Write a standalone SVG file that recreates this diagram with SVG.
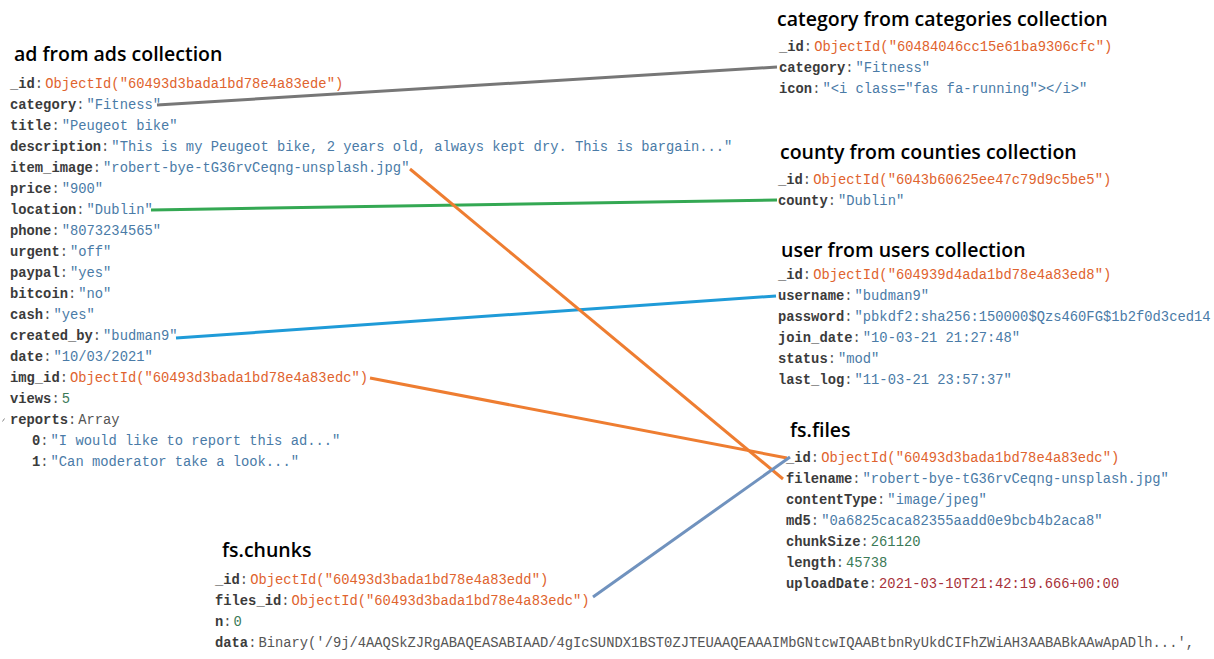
<svg xmlns="http://www.w3.org/2000/svg" width="1214" height="659" viewBox="0 0 1214 659">
<style>
text{font-family:"Liberation Mono","DejaVu Sans Mono",monospace;font-size:13.8px;fill:#555555}
.h{font-family:"Open Sans","Liberation Sans",sans-serif;font-size:19.5px;font-weight:600;fill:#000000}
.k{font-weight:bold;fill:#3b3b3b}
.s{fill:#4a7ba7}
.o{fill:#e0632e}
.n{fill:#3b7a57}
.d{fill:#a8323a}
.g{fill:#555555}
.c{fill:none;stroke-width:3;stroke-linecap:butt}
</style>
<rect width="1214" height="659" fill="#ffffff"/>

<g id="ad">
<text class="h" x="14" y="61">ad from ads collection</text>
<text x="10" y="88"><tspan class="k">_id</tspan>:<tspan class="o" dx="2">ObjectId("60493d3bada1bd78e4a83ede")</tspan></text>
<text x="10" y="109"><tspan class="k">category</tspan>:<tspan class="s" dx="2">"Fitness"</tspan></text>
<text x="10" y="130"><tspan class="k">title</tspan>:<tspan class="s" dx="2">"Peugeot bike"</tspan></text>
<text x="10" y="151"><tspan class="k">description</tspan>:<tspan class="s" dx="2">"This is my Peugeot bike, 2 years old, always kept dry. This is bargain..."</tspan></text>
<text x="10" y="172"><tspan class="k">item_image</tspan>:<tspan class="s" dx="2">"robert-bye-tG36rvCeqng-unsplash.jpg"</tspan></text>
<text x="10" y="193"><tspan class="k">price</tspan>:<tspan class="s" dx="2">"900"</tspan></text>
<text x="10" y="214"><tspan class="k">location</tspan>:<tspan class="s" dx="2">"Dublin"</tspan></text>
<text x="10" y="235"><tspan class="k">phone</tspan>:<tspan class="s" dx="2">"8073234565"</tspan></text>
<text x="10" y="256"><tspan class="k">urgent</tspan>:<tspan class="s" dx="2">"off"</tspan></text>
<text x="10" y="277"><tspan class="k">paypal</tspan>:<tspan class="s" dx="2">"yes"</tspan></text>
<text x="10" y="298"><tspan class="k">bitcoin</tspan>:<tspan class="s" dx="2">"no"</tspan></text>
<text x="10" y="319"><tspan class="k">cash</tspan>:<tspan class="s" dx="2">"yes"</tspan></text>
<text x="10" y="340"><tspan class="k">created_by</tspan>:<tspan class="s" dx="2">"budman9"</tspan></text>
<text x="10" y="361"><tspan class="k">date</tspan>:<tspan class="s" dx="2">"10/03/2021"</tspan></text>
<text x="10" y="382"><tspan class="k">img_id</tspan>:<tspan class="o" dx="2">ObjectId("60493d3bada1bd78e4a83edc")</tspan></text>
<text x="10" y="403"><tspan class="k">views</tspan>:<tspan class="n" dx="2">5</tspan></text>
<path d="M2.5,421.5 L4.5,418.5" stroke="#888" stroke-width="1" fill="none"/>
<text x="10" y="424"><tspan class="k">reports</tspan>:<tspan class="g" dx="2">Array</tspan></text>
<text x="32" y="445"><tspan class="k">0</tspan>:<tspan class="s" dx="2">"I would like to report this ad..."</tspan></text>
<text x="32" y="466"><tspan class="k">1</tspan>:<tspan class="s" dx="2">"Can moderator take a look..."</tspan></text>
</g>

<g id="category">
<text class="h" x="777" y="26">category from categories collection</text>
<text x="779" y="51"><tspan class="k">_id</tspan>:<tspan class="o" dx="2">ObjectId("60484046cc15e61ba9306cfc")</tspan></text>
<text x="779" y="72"><tspan class="k">category</tspan>:<tspan class="s" dx="2">"Fitness"</tspan></text>
<text x="779" y="93"><tspan class="k">icon</tspan>:<tspan class="s" dx="2">"&lt;i class="fas fa-running"&gt;&lt;/i&gt;"</tspan></text>
</g>

<g id="county">
<text class="h" x="780" y="159">county from counties collection</text>
<text x="778" y="184"><tspan class="k">_id</tspan>:<tspan class="o" dx="2">ObjectId("6043b60625ee47c79d9c5be5")</tspan></text>
<text x="778" y="205"><tspan class="k">county</tspan>:<tspan class="s" dx="2">"Dublin"</tspan></text>
</g>

<g id="user">
<text class="h" x="781" y="257">user from users collection</text>
<text x="778" y="279"><tspan class="k">_id</tspan>:<tspan class="o" dx="2">ObjectId("604939d4ada1bd78e4a83ed8")</tspan></text>
<text x="778" y="300"><tspan class="k">username</tspan>:<tspan class="s" dx="2">"budman9"</tspan></text>
<text x="778" y="321"><tspan class="k">password</tspan>:<tspan class="s" dx="2">"pbkdf2:sha256:150000$Qzs460FG$1b2f0d3ced14</tspan></text>
<text x="778" y="342"><tspan class="k">join_date</tspan>:<tspan class="s" dx="2">"10-03-21 21:27:48"</tspan></text>
<text x="778" y="363"><tspan class="k">status</tspan>:<tspan class="s" dx="2">"mod"</tspan></text>
<text x="778" y="384"><tspan class="k">last_log</tspan>:<tspan class="s" dx="2">"11-03-21 23:57:37"</tspan></text>
</g>

<g id="fs-files">
<text class="h" x="790" y="437">fs.files</text>
<text x="786" y="462"><tspan class="k">_id</tspan>:<tspan class="o" dx="2">ObjectId("60493d3bada1bd78e4a83edc")</tspan></text>
<text x="786" y="483"><tspan class="k">filename</tspan>:<tspan class="s" dx="2">"robert-bye-tG36rvCeqng-unsplash.jpg"</tspan></text>
<text x="786" y="504"><tspan class="k">contentType</tspan>:<tspan class="s" dx="2">"image/jpeg"</tspan></text>
<text x="786" y="525"><tspan class="k">md5</tspan>:<tspan class="s" dx="2">"0a6825caca82355aadd0e9bcb4b2aca8"</tspan></text>
<text x="786" y="546"><tspan class="k">chunkSize</tspan>:<tspan class="n" dx="2">261120</tspan></text>
<text x="786" y="567"><tspan class="k">length</tspan>:<tspan class="n" dx="2">45738</tspan></text>
<text x="786" y="588"><tspan class="k">uploadDate</tspan>:<tspan class="d" dx="2">2021-03-10T21:42:19.666+00:00</tspan></text>
</g>

<g id="fs-chunks">
<text class="h" x="222" y="557">fs.chunks</text>
<text x="215" y="584"><tspan class="k">_id</tspan>:<tspan class="o" dx="2">ObjectId("60493d3bada1bd78e4a83edd")</tspan></text>
<text x="215" y="605"><tspan class="k">files_id</tspan>:<tspan class="o" dx="2">ObjectId("60493d3bada1bd78e4a83edc")</tspan></text>
<text x="215" y="626"><tspan class="k">n</tspan>:<tspan class="n" dx="2">0</tspan></text>
<text x="215" y="647"><tspan class="k">data</tspan>:<tspan class="g" dx="2">Binary('/9j/4AAQSkZJRgABAQEASABIAAD/4gIcSUNDX1BST0ZJTEUAAQEAAAIMbGNtcwIQAABtbnRyUkdCIFhZWiAH3AABABkAAwApADlh...',</tspan></text>
</g>

<g id="connectors">
<line class="c" x1="157" y1="105" x2="777" y2="67" stroke="#777777"/>
<line class="c" x1="151" y1="210" x2="777" y2="200" stroke="#34a853"/>
<line class="c" x1="176" y1="338" x2="776" y2="296" stroke="#1f9bd8"/>
<line class="c" x1="410" y1="169" x2="783" y2="479" stroke="#ee7d31"/>
<line class="c" x1="370" y1="378" x2="787" y2="458" stroke="#ee7d31"/>
<line class="c" x1="593" y1="597" x2="790" y2="457" stroke="#7092be"/>
</g>
</svg>
